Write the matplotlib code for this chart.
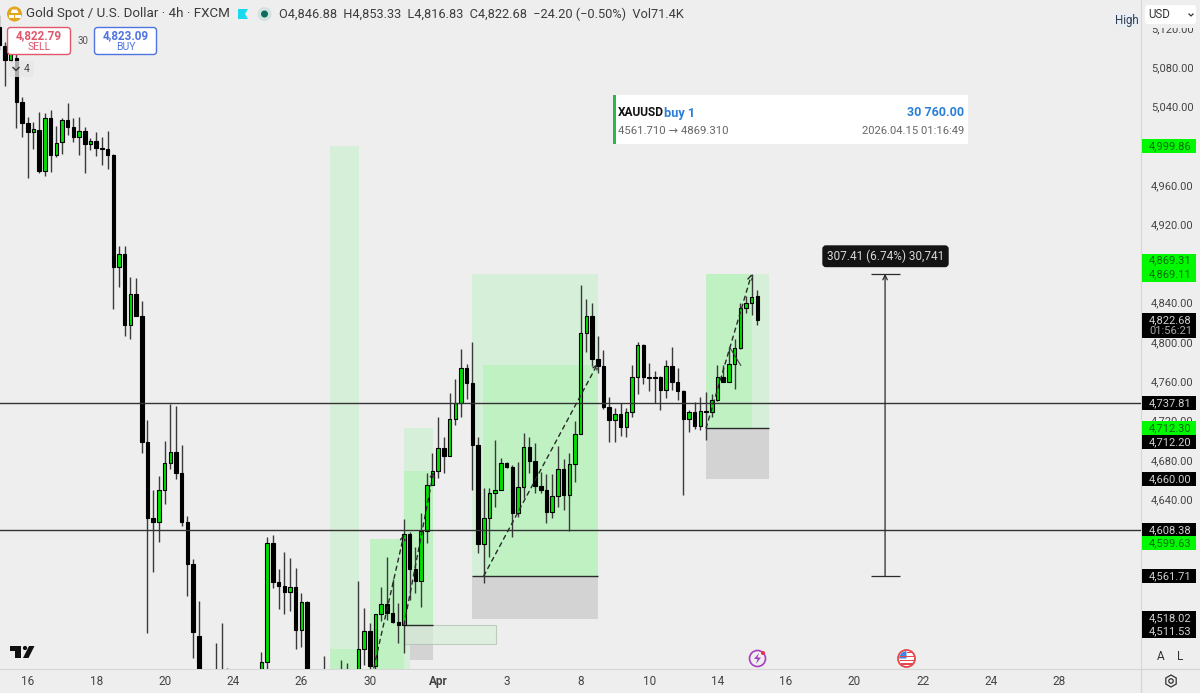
import matplotlib
matplotlib.use('Agg')
import matplotlib.pyplot as plt
from matplotlib.patches import Rectangle, FancyBboxPatch, Circle, Polygon, RegularPolygon, Wedge
import numpy as np

plt.rcParams['font.family'] = ['Roboto', 'DejaVu Sans']

n = np.nan
BG = '#eeeeee'
UP = '#00e000'
LIGHT = '#d6efd8'
MID = '#bff1c3'
GRAY = '#d3d3d3'
DARK = '#2a2a2a'

# 4h candles, first one is half cut by the left edge
opens = [5121, 5102, 5087, 5089, 5044, 5023, 5014, 5016, 4974, 5028,
         4990, 5004, 5026, 5019, 5009, 5015, 5002, 5005, 4998, 4997,
         4990, 4876, 4890, 4817, 4849, 4826, 4698, 4621, 4617, 4649,
         4677, 4688, 4667, 4617, 4574, 4500, n, n, 4455, 4450,
         4455, n, n, n, n, n, 4445, 4474, 4595, 4555,
         4551, 4545, 4550, 4507, 4535, n, n, 4450, n, n,
         4455, 4450, n, 4455, 4487, 4506, 4470, 4523, 4533, 4524,
         4515, 4512, 4604, 4569, 4556, 4607, 4654, 4669, 4692, 4684,
         4722, 4738, 4773, 4758, 4695, 4594, 4621, 4646, 4649, 4677,
         4673, 4626, 4652, 4693, 4679, 4653, 4649, 4627, 4643, 4671,
         4644, 4676, 4706, 4809, 4826, 4783, 4776, 4734, 4720, 4727,
         4713, 4729, 4764, 4797, 4764, 4764, 4764, 4751, 4775, 4759,
         4750, 4721, 4729, 4714, 4730, 4729, 4741, 4764, 4759, 4778,
         4794, 4835, 4840, 4846.88]
highs = [5133, 5106, 5097, 5097, 5050, 5029, 5024, 5034, 5033, 5036,
         5020, 5028, 5043, 5028, 5029, 5019, 5008, 5014, 5009, 5015,
         4991, 4898, 4898, 4866, 4865, 4842, 4720, 4649, 4663, 4699,
         4737, 4735, 4695, 4623, 4579, 4536, n, n, 4493, 4514,
         4468, n, n, n, n, n, 4484, 4601, 4603, 4569,
         4586, 4580, 4570, 4544, 4536, n, n, 4480, n, n,
         4476, 4473, n, 4556, 4529, 4514, 4523, 4550, 4581, 4558,
         4534, 4620, 4606, 4591, 4626, 4667, 4687, 4724, 4703, 4748,
         4762, 4793, 4778, 4800, 4703, 4651, 4651, 4700, 4682, 4678,
         4675, 4678, 4707, 4703, 4697, 4668, 4665, 4665, 4694, 4681,
         4687, 4719, 4858, 4844, 4840, 4806, 4792, 4744, 4733, 4738,
         4733, 4777, 4800, 4798, 4779, 4770, 4765, 4782, 4795, 4773,
         4751, 4731, 4739, 4744, 4749, 4747, 4777, 4777, 4795, 4803,
         4840, 4847, 4869, 4853.33]
lows = [5097, 5061, 5085, 5018, 5009, 4967, 4997, 4972, 4969, 4973,
        4988, 4992, 5011, 5004, 4990, 4972, 4996, 4989, 4980, 4976,
        4834, 4856, 4806, 4803, 4826, 4687, 4503, 4566, 4596, 4635,
        4671, 4660, 4613, 4541, 4478, 4440, n, n, 4440, 4440,
        4445, n, n, n, n, n, 4430, 4460, 4549, 4528,
        4523, 4526, 4487, 4489, 4440, n, n, 4440, n, n,
        4440, 4440, n, 4440, 4471, 4460, 4460, 4516, 4517, 4514,
        4493, 4483, 4537, 4544, 4530, 4595, 4654, 4661, 4667, 4684,
        4715, 4724, 4742, 4649, 4585, 4554, 4581, 4632, 4649, 4672,
        4601, 4622, 4641, 4667, 4646, 4646, 4616, 4621, 4632, 4629,
        4607, 4657, 4706, 4790, 4775, 4768, 4732, 4698, 4698, 4704,
        4703, 4724, 4747, 4757, 4750, 4738, 4731, 4743, 4751, 4741,
        4644, 4708, 4711, 4710, 4700, 4724, 4740, 4759, 4759, 4752,
        4793, 4830, 4827, 4816.83]
closes = [5103, 5087, 5094, 5044, 5023, 5014, 5017, 4974, 5028, 4990,
          5003, 5026, 5019, 5009, 5015, 5002, 5005, 4998, 4997, 4990,
          4876, 4890, 4817, 4849, 4826, 4698, 4621, 4617, 4649, 4677,
          4688, 4667, 4617, 4574, 4504, 4452, n, n, 4445, 4445,
          4450, n, n, n, n, n, 4474, 4595, 4555, 4551,
          4545, 4550, 4507, 4535, 4450, n, n, 4445, n, n,
          4450, 4452, n, 4487, 4506, 4470, 4523, 4533, 4524, 4515,
          4512, 4604, 4569, 4556, 4607, 4654, 4669, 4692, 4684, 4722,
          4738, 4773, 4758, 4695, 4594, 4621, 4646, 4649, 4677, 4673,
          4626, 4652, 4693, 4679, 4653, 4649, 4627, 4643, 4671, 4644,
          4676, 4706, 4809, 4826, 4783, 4775, 4734, 4720, 4727, 4713,
          4729, 4764, 4797, 4764, 4763, 4763, 4751, 4775, 4759, 4750,
          4721, 4729, 4714, 4730, 4729, 4741, 4764, 4759, 4778, 4794,
          4835, 4840, 4846, 4822.68]

# position boxes: bar from, bar to, price top, price bottom, fill
zone_left = [57, 57, 64, 70, 70, 70, 82, 83.9, 82, 123, 123, 123]
zone_right = [62.1, 62.1, 70, 75.1, 75.1, 75.1, 104, 104, 104, 134, 131, 134]
zone_top = [4999.86, 4487, 4599.63, 4712.3, 4668.5, 4511.53, 4869.31, 4777, 4561.71, 4869.31, 4869.31, 4712.3]
zone_bottom = [4440, 4440, 4440, 4668.5, 4511.53, 4476, 4561.71, 4561.71, 4518.02, 4712.3, 4712.3, 4660]
zone_fill = [LIGHT, MID, MID, LIGHT, MID, GRAY, LIGHT, MID, GRAY, LIGHT, MID, GRAY]

hline_prices = [4737.81, 4608.38]
x_ticks = [4, 16, 28, 40, 52, 64, 76, 88, 101, 113, 125, 137, 149, 161, 173, 185]
x_labels = ['16', '18', '20', '24', '26', '30', 'Apr', '3', '8', '10', '14', '16', '20', '22', '24', '28']
y_ticks = [4640, 4680, 4720, 4760, 4800, 4840, 4920, 4960, 5040, 5080, 5120]

tag_prices = [4999.86, 4869.31, 4869.11, 4737.81, 4712.30, 4712.20, 4660.00, 4608.38, 4599.63, 4561.71, 4518.02, 4511.53]
tag_shift = [0, -13.3, 0.5, 0, 0, 14, 0, 0, 4.3, 0, -1, 6]
tag_green = [True, True, True, False, True, False, False, False, True, False, False, False]

P_TOP, P_BOT = 5148.4, 4466.8
AX_W, AX_H = 1141, 669

fig = plt.figure(figsize=(12, 6.93), dpi=100, facecolor=BG)
ax = fig.add_axes([0, 1 - AX_H / 693, AX_W / 1200, AX_H / 693], facecolor=BG)
ax.set_xlim(-0.877, 199.3)
ax.set_ylim(P_BOT, P_TOP)

for l, r, t, b, c in zip(zone_left, zone_right, zone_top, zone_bottom, zone_fill):
    ax.add_patch(Rectangle((l, b), r - l, t - b, facecolor=c, edgecolor='none', zorder=1))
ax.add_patch(Rectangle((70, 4440), 1, 4492 - 4440, facecolor=LIGHT, edgecolor='none', zorder=1.1))
ax.add_patch(Rectangle((70, 4492), 16.1, 4511.53 - 4492, facecolor='#d6efd8', alpha=0.65,
                       edgecolor='#a9bba9', linewidth=0.8, zorder=1.2))
ax.hlines([4561.71, 4511.53, 4712.3], [82, 70, 123], [104, 75.1, 134], color=DARK, linewidth=1, zorder=2)

bars = np.arange(len(opens)) - 1
o, h, l, c = map(np.array, (opens, highs, lows, closes))
ax.vlines(bars, l, h, color='#3a3a3a', linewidth=1, zorder=3)
bottoms = np.minimum(o, c)
heights = np.maximum(np.abs(c - o), 0.8)
colors = [UP if ci >= oi else 'black' for oi, ci in zip(o, c)]
ax.bar(bars, heights, bottom=bottoms, width=0.62, color=colors, edgecolor='black', linewidth=0.8, zorder=3.5)

ax.hlines(hline_prices, -1, 199.3, color='#333333', linewidth=1, zorder=4)

# dashed trade arrows
arrow_from = [(84, 4561.71), (64.7, 4468), (70, 4511.53), (123, 4712.3)]
arrow_to = [(104, 4778), (70, 4604), (75.2, 4668), (131, 4869.31)]
for a, b in zip(arrow_from, arrow_to):
    ax.annotate('', xy=b, xytext=a, zorder=5,
                arrowprops=dict(arrowstyle='->', linestyle=(0, (3, 3)), linewidth=1, color=DARK,
                                shrinkA=0, shrinkB=0, mutation_scale=8))
ax.annotate('', xy=(129.1, 4776), xytext=(127.2, 4794), zorder=5,
            arrowprops=dict(arrowstyle='-', linewidth=0.8, color='#444444', shrinkA=0, shrinkB=0))

# range measure
ax.annotate('', xy=(154.4, 4869.31), xytext=(154.4, 4561.71), zorder=5,
            arrowprops=dict(arrowstyle='->', linewidth=0.9, color=DARK, shrinkA=0, shrinkB=0, mutation_scale=8))
ax.hlines([4869.31, 4561.71], 151.9, 157, color=DARK, linewidth=0.9, zorder=5)

ax.set_xticks(x_ticks)
ax.set_xticklabels(x_labels, fontsize=8.5, color='#444444')
ax.get_xticklabels()[6].set_fontweight('bold')
ax.yaxis.tick_right()
ax.set_yticks(y_ticks)
ax.set_yticklabels([f'{v:,.2f}' for v in y_ticks], fontsize=8, color='#444444')
ax.tick_params(axis='x', length=0, pad=4.5)
ax.tick_params(axis='y', length=0, pad=7)
for s in ('top', 'left'):
    ax.spines[s].set_visible(False)
for s in ('right', 'bottom'):
    ax.spines[s].set_color('#d6d6d6')

# overlay in picture pixels for the app furniture
ov = fig.add_axes([0, 0, 1, 1], facecolor='none', zorder=10)
ov.set_xlim(0, 1200)
ov.set_ylim(693, 0)
ov.axis('off')


def py(price):
    return (P_TOP - price) / (P_TOP - P_BOT) * AX_H


ov.plot([1141, 1141], [669, 693], color='#d6d6d6', lw=1)
ov.plot([1141, 1200], [669, 669], color='#d6d6d6', lw=1)

for p, s, g in zip(tag_prices, tag_shift, tag_green):
    yc = py(p) + s
    ov.add_patch(Rectangle((1142, yc - 7), 54, 14, facecolor='#00f800' if g else 'black', edgecolor='none'))
    ov.text(1149, yc, f'{p:,.2f}', fontsize=8, va='center', ha='left', color='#0b6b0b' if g else '#d0d0d0')
ov.add_patch(Rectangle((1142, 313), 54, 25, facecolor='black', edgecolor='none'))
ov.text(1149, 320, '4,822.68', fontsize=8, va='center', color='#d0d0d0')
ov.text(1149, 331.5, '01:56:21', fontsize=8, va='center', color='#a8a8a8')

# measure tooltip
ov.add_patch(FancyBboxPatch((823, 246), 125, 20.5, boxstyle='round,pad=0,rounding_size=3',
                            mutation_aspect=1, facecolor='#141414', edgecolor='#141414', lw=1))
ov.text(885.5, 256.5, '307.41 (6.74%) 30,741', fontsize=8.5, color='#d8d8d8', ha='center', va='center')

# trade card
ov.add_patch(Rectangle((613, 95), 355, 49, facecolor='white', edgecolor='none'))
ov.add_patch(Rectangle((613, 95), 3, 49, facecolor='#2fb84a', edgecolor='none'))
ov.text(618, 113, 'XAUUSD', fontsize=8.6, fontweight='bold', color='#111111', va='center')
ov.text(664, 113, 'buy 1', fontsize=9.2, fontweight='bold', color='#2a7fd6', va='center')
ov.text(964, 113, '30 760.00', fontsize=9, fontweight='bold', color='#2a7fd6', va='center', ha='right')
ov.text(618, 131.5, '4561.710 → 4869.310', fontsize=8.2, color='#666666', va='center')
ov.text(964, 131.5, '2026.04.15 01:16:49', fontsize=8.1, color='#666666', va='center', ha='right')

# header
ov.add_patch(Circle((14.5, 14), 7.5, facecolor='#e2a51c', edgecolor='none'))
ov.add_patch(Polygon([(12, 9.5), (17, 9.5), (18.5, 13), (10.5, 13)], facecolor='white', edgecolor='none'))
ov.add_patch(Rectangle((8.5, 14.5), 5.5, 3, facecolor='white', edgecolor='none'))
ov.add_patch(Rectangle((15, 14.5), 5.5, 3, facecolor='white', edgecolor='none'))
ov.text(26, 14, 'Gold Spot / U.S. Dollar · 4h · FXCM', fontsize=9.6, color='#3a3a3a', va='center')
ov.add_patch(Polygon([(238, 9), (248, 9), (245, 14), (248, 19), (238, 19)], facecolor='#19d9ef', edgecolor='none'))
ov.add_patch(Circle((264.5, 14), 7, facecolor='#d3e3df', edgecolor='none'))
ov.add_patch(Circle((264.5, 14), 3.5, facecolor='#0c6b5c', edgecolor='none'))
ov.text(279, 14.5, 'O4,846.88  H4,853.33  L4,816.83  C4,822.68  −24.20 (−0.50%)  Vol71.4K',
        fontsize=9.2, color='#3c3c3c', va='center')

# sell / buy
ov.add_patch(FancyBboxPatch((7.5, 27.5), 63, 27, boxstyle='round,pad=0,rounding_size=3',
                            facecolor='white', edgecolor='#e0566b', lw=1))
ov.text(39, 36, '4,822.79', fontsize=8.4, fontweight='bold', color='#e0566b', ha='center', va='center')
ov.text(39, 47, 'SELL', fontsize=7.5, color='#e0566b', ha='center', va='center')
ov.add_patch(FancyBboxPatch((94.5, 27.5), 62, 27, boxstyle='round,pad=0,rounding_size=3',
                            facecolor='white', edgecolor='#4f74e0', lw=1))
ov.text(125.5, 36, '4,823.09', fontsize=8.4, fontweight='bold', color='#4f74e0', ha='center', va='center')
ov.text(125.5, 47, 'BUY', fontsize=7.5, color='#4f74e0', ha='center', va='center')
ov.text(82.5, 41, '30', fontsize=7, color='#555555', ha='center', va='center')
ov.add_patch(FancyBboxPatch((8.5, 61), 25, 16, boxstyle='round,pad=0,rounding_size=2',
                            facecolor='#e6e6e6', edgecolor='none', alpha=0.75))
ov.plot([13, 16, 19], [67.5, 70.5, 67.5], color='#333333', lw=1)
ov.text(27, 69.5, '4', fontsize=7.5, color='#444444', ha='center', va='center')

# top right, the pane above the scale hides the upper half of 5,120
ov.add_patch(Rectangle((1142, 0), 58, 27.5, facecolor=BG, edgecolor='none'))
ov.add_patch(Rectangle((1115, 13), 25, 14, facecolor='#e9eef5', edgecolor='none'))
ov.text(1127, 20.5, 'High', fontsize=8.3, color='#2c3e55', ha='center', va='center')
ov.add_patch(FancyBboxPatch((1145, 5), 51, 19, boxstyle='round,pad=0,rounding_size=3',
                            facecolor='white', edgecolor='none'))
ov.text(1148, 15, 'USD', fontsize=8.3, color='#333333', va='center')
ov.plot([1189, 1191, 1193], [14, 16, 14], color='#333333', lw=0.9)

# bottom right
ov.text(1160.5, 657, 'A', fontsize=8.5, color='#333333', ha='center', va='center')
ov.text(1180, 657, 'L', fontsize=8.5, color='#333333', ha='center', va='center')
ov.add_patch(RegularPolygon((1171, 681), 6, radius=6, facecolor='none', edgecolor='#333333', lw=0.9))
ov.add_patch(Circle((1171, 681), 2.2, facecolor='none', edgecolor='#333333', lw=0.9))

# tradingview logo
ov.add_patch(Polygon([(10, 646), (21, 646), (21, 658), (15, 658), (15, 650.5), (10, 650.5)], facecolor='#111111', edgecolor='none'))
ov.add_patch(Circle((25, 648), 2.1, facecolor='#111111', edgecolor='none'))
ov.add_patch(Polygon([(29, 646), (34.5, 646), (28.5, 658), (23, 658)], facecolor='#111111', edgecolor='none'))

# event badges on the time axis
ov.add_patch(Circle((757.5, 658.5), 8, facecolor='none', edgecolor='#a63ec2', lw=1.2))
ov.add_patch(Polygon([(759, 653), (754, 659), (757.5, 659), (756, 664), (761, 657.5), (757.5, 657.5)], facecolor='#a63ec2', edgecolor='none'))
ov.add_patch(Circle((763, 653), 2, facecolor='#e8304a', edgecolor='none'))
ov.add_patch(Circle((906.5, 658.5), 8.5, facecolor='white', edgecolor='#e5474a', lw=1.3))
ov.add_patch(Wedge((906.5, 658.5), 7.3, 180, 270, facecolor='#3f83e0', edgecolor='none'))
ov.add_patch(Rectangle((906.5, 651.5), 6.5, 1.7, facecolor='#e5474a', edgecolor='none'))
ov.add_patch(Rectangle((900, 655.5), 13.5, 1.7, facecolor='#e5474a', edgecolor='none'))
ov.add_patch(Rectangle((900, 659.5), 13.5, 1.7, facecolor='#e5474a', edgecolor='none'))
ov.add_patch(Rectangle((901, 663), 11.5, 1.7, facecolor='#e5474a', edgecolor='none'))

fig.savefig('out.png', dpi=100, facecolor=BG)
